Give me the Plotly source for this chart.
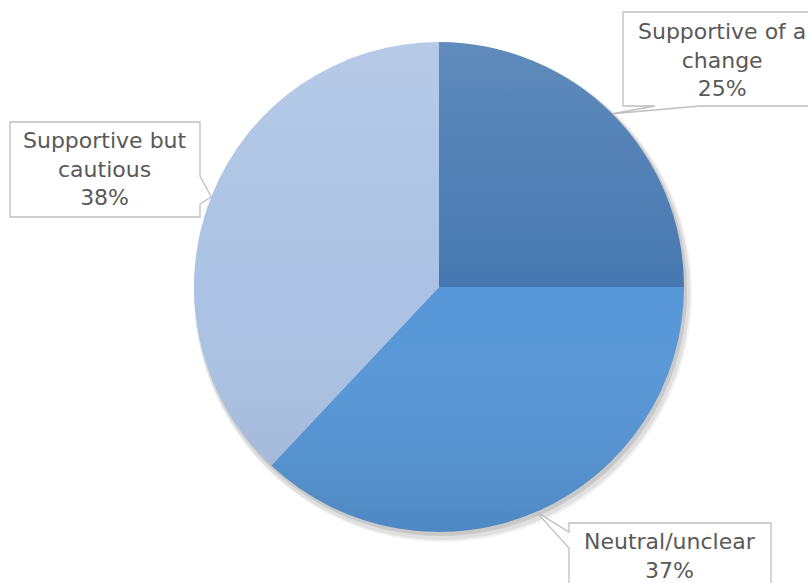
import math
import urllib.parse
import plotly.graph_objects as go

# Survey stance breakdown
categories = ["Supportive of a<br>change", "Neutral/unclear", "Supportive but<br>cautious"]
shares = [25, 37, 38]
colors = ["#4678b1", "#5797d8", "#abc2e4"]

W, H = 808, 583
CX, CY, R = 439, 287, 245  # pie centre and radius in pixels


def px(x):
    return x / W


def py(y):
    return 1 - y / H


def dom(cx, cy, r):
    return dict(x=[px(cx - r), px(cx + r)], y=[py(cy + r), py(cy - r)])


fig = go.Figure()

# soft drop shadow under the pie, offset towards the lower right
for dr, dx, dy, op in [(4, 4, 6, 0.05), (3, 3, 5, 0.07), (1, 2, 3, 0.10)]:
    fig.add_trace(go.Pie(values=[1], marker=dict(colors=[f"rgba(0,0,0,{op})"]),
                         textinfo="none", hoverinfo="skip", showlegend=False,
                         domain=dom(CX + dx, CY + dy, R + dr), sort=False))

fig.add_trace(go.Pie(
    labels=categories, values=shares, sort=False, direction="clockwise",
    rotation=0, textinfo="none", textposition="none",
    marker=dict(colors=colors, line=dict(width=0)),
    domain=dom(CX, CY, R), showlegend=False,
))

# vertical light-to-dark shading across the disc
svg = ('<svg xmlns="http://www.w3.org/2000/svg" width="200" height="200" viewBox="0 0 200 200">'
       '<defs><linearGradient id="g" x1="0" y1="0" x2="0" y2="1">'
       '<stop offset="0" stop-color="#ffffff" stop-opacity="0.14"/>'
       '<stop offset="0.5" stop-color="#ffffff" stop-opacity="0"/>'
       '<stop offset="1" stop-color="#000000" stop-opacity="0.10"/>'
       '</linearGradient></defs>'
       '<circle cx="100" cy="100" r="100" fill="url(#g)"/></svg>')
fig.add_layout_image(dict(
    source="data:image/svg+xml;charset=utf-8," + urllib.parse.quote(svg),
    xref="paper", yref="paper", x=px(CX - R), y=py(CY - R),
    sizex=2 * R / W, sizey=2 * R / H, sizing="stretch",
    xanchor="left", yanchor="top", layer="above",
))

# callout boxes: (left, top, right, bottom), pointer anchors on the box, text centre
boxes = [
    dict(box=(623, 12, 821, 106), base=[(700, 106), (655, 106)], side="bottom", ty=60),
    dict(box=(569, 523, 771, 640), base=[(569, 532), (569, 548)], side="left", ty=556),
    dict(box=(10, 122, 200, 217), base=[(200, 176), (200, 204)], side="right", ty=169),
]

total = sum(shares)
start = 0.0
for i, (lab, v) in enumerate(zip(categories, shares)):
    mid = (start + v / 2) / total * 2 * math.pi
    start += v
    tipx = CX + R * math.sin(mid)
    tipy = CY - R * math.cos(mid)
    b = boxes[i]
    l, t, r, btm = b["box"]
    (ax1, ay1), (ax2, ay2) = b["base"]
    if b["side"] == "bottom":
        pts = [(l, t), (r, t), (r, btm), (ax1, ay1), (tipx, tipy), (ax2, ay2), (l, btm)]
    elif b["side"] == "left":
        pts = [(l, t), (r, t), (r, btm), (l, btm), (ax2, ay2), (tipx, tipy), (ax1, ay1)]
    else:
        pts = [(l, t), (r, t), (ax1, ay1), (tipx, tipy), (ax2, ay2), (r, btm), (l, btm)]
    path = "M " + " L ".join(f"{px(x):.5f},{py(y):.5f}" for x, y in pts) + " Z"
    fig.add_shape(type="path", path=path, xref="paper", yref="paper",
                  fillcolor="white", line=dict(color="#bfbfbf", width=1.3), layer="above")
    fig.add_annotation(x=px((l + r) / 2), y=py(b["ty"]), xref="paper", yref="paper",
                       text=f"{lab}<br>{v}%", showarrow=False,
                       font=dict(family="DejaVu Sans ExtraLight, DejaVu Sans", size=22,
                                 color="#595959"),
                       align="center", xanchor="center", yanchor="middle")

fig.update_layout(
    width=W, height=H, margin=dict(l=0, r=0, t=0, b=0),
    paper_bgcolor="white", plot_bgcolor="white",
)
fig.write_html("out.html")
